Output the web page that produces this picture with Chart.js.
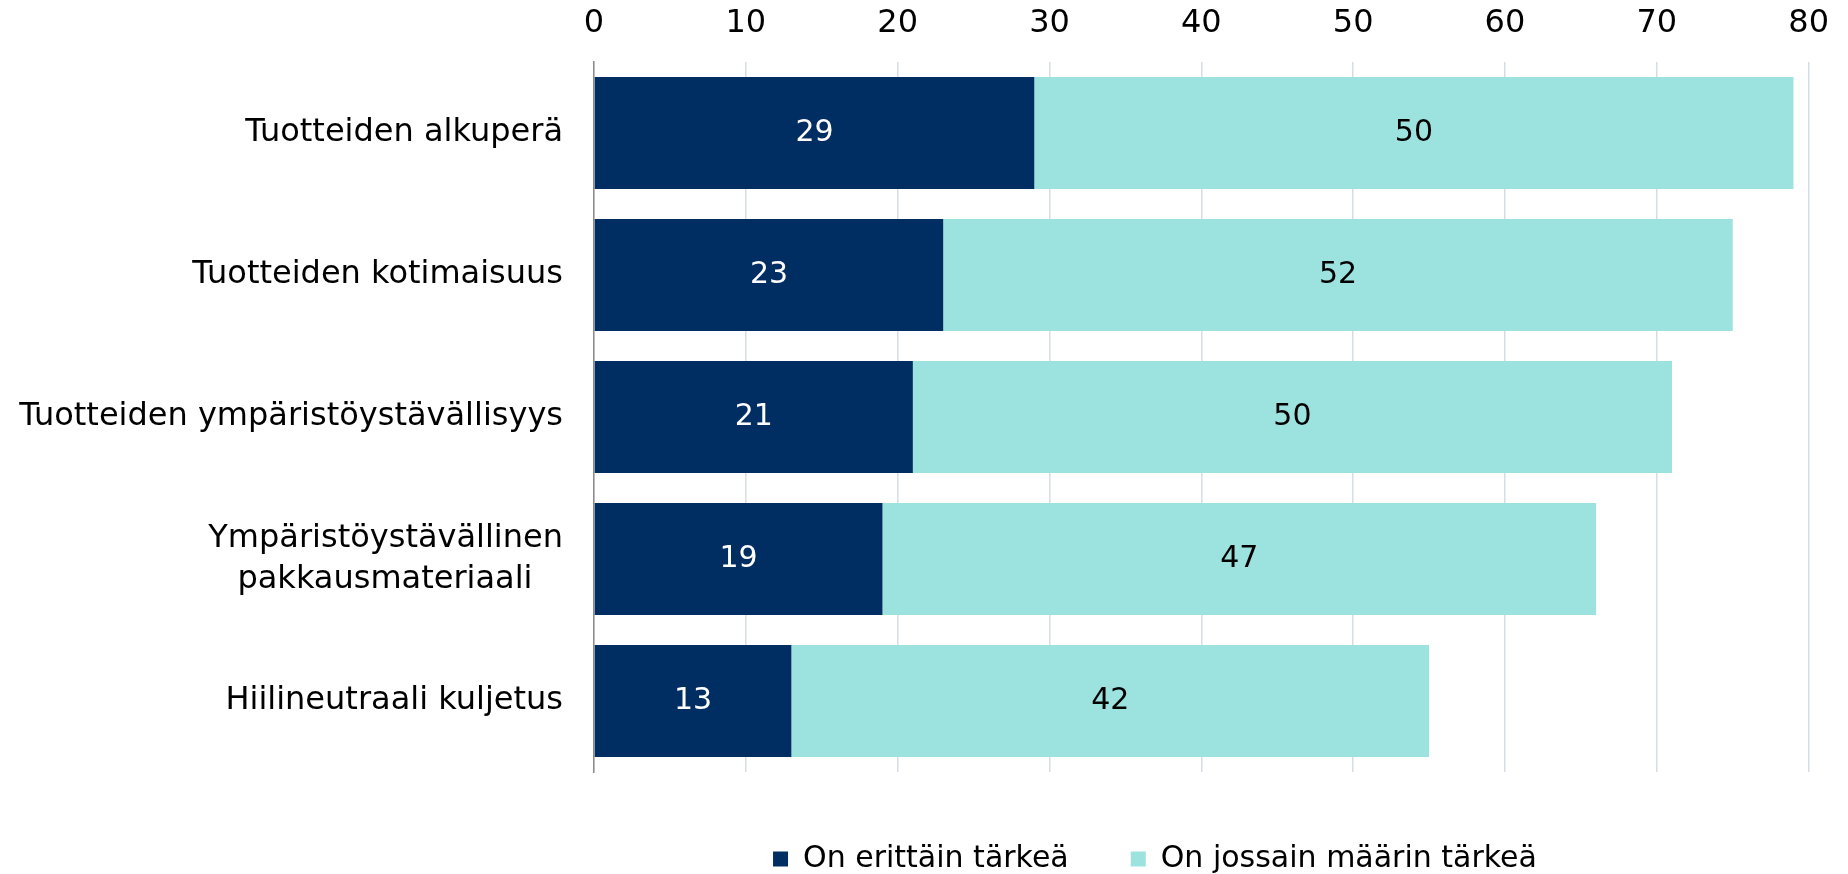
<!DOCTYPE html>
<html>
<head>
<meta charset="utf-8">
<script src="https://cdn.jsdelivr.net/npm/chart.js@4.4.1/dist/chart.umd.min.js"></script>
<style>
  html, body { margin: 0; padding: 0; background: #ffffff; }
  #wrap { width: 1848px; height: 874px; position: relative; }
</style>
</head>
<body>
<div id="wrap"><canvas id="c" width="1848" height="874"></canvas></div>
<script>
const categories = [
  'Tuotteiden alkuperä',
  'Tuotteiden kotimaisuus',
  'Tuotteiden ympäristöystävällisyys',
  ['Ympäristöystävällinen', 'pakkausmateriaali\u00a0\u00a0\u00a0'],
  'Hiilineutraali kuljetus'
];
const seriesNames = ['On erittäin tärkeä', 'On jossain määrin tärkeä'];
const veryImportant = [29, 23, 21, 19, 13];
const somewhatImportant = [50, 52, 50, 47, 42];
const xTicks = [0, 10, 20, 30, 40, 50, 60, 70, 80];

const FONT = '"DejaVu Sans"';
const FS = 32;
const LABEL_FS = 30;
const LEG_FS = 30;
const LEG_PAD = 62;

const barLabels = {
  id: 'barLabels',
  afterDatasetsDraw(chart) {
    const ctx = chart.ctx;
    ctx.save();
    ctx.font = LABEL_FS + 'px ' + FONT;
    ctx.textAlign = 'center';
    ctx.textBaseline = 'middle';
    chart.data.datasets.forEach((ds, di) => {
      const meta = chart.getDatasetMeta(di);
      meta.data.forEach((el, i) => {
        const p = el.getCenterPoint();
        ctx.fillStyle = di === 0 ? '#ffffff' : '#000000';
        ctx.fillText(String(ds.data[i]), p.x, p.y);
      });
    });
    ctx.restore();
  }
};

const legendPlace = {
  id: 'legendPlace',
  afterLayout(chart) {
    const lg = chart.legend;
    if (!lg) return;
    const h = lg.height;
    lg.top = 859 - LEG_PAD - LEG_FS / 2;
    lg.bottom = lg.top + h;
    lg.left = 462;
    lg.right = 1848;
  }
};

new Chart(document.getElementById('c'), {
  type: 'bar',
  data: {
    labels: categories,
    datasets: [
      { label: seriesNames[0], data: veryImportant, backgroundColor: '#002d62', borderWidth: 0 },
      { label: seriesNames[1], data: somewhatImportant, backgroundColor: '#9ce2de', borderWidth: 0 }
    ]
  },
  options: {
    indexAxis: 'y',
    responsive: false,
    animation: false,
    devicePixelRatio: 1,
    layout: { padding: { left: 0, right: 30, top: 0, bottom: 0 } },
    categoryPercentage: 0.79,
    barPercentage: 1.0,
    scales: {
      x: {
        position: 'top',
        stacked: true,
        min: 0,
        max: 80,
        afterBuildTicks(scale) { scale.ticks = xTicks.map(v => ({ value: v })); },
        afterFit(scale) { scale.height = 62; },
        ticks: { color: '#000000', font: { family: FONT, size: FS }, padding: 19 },
        grid: { color: '#d6dde5', lineWidth: 1.5, drawTicks: false },
        border: { display: false }
      },
      y: {
        stacked: true,
        afterFit(scale) { scale.width = 594; },
        ticks: { color: '#000000', font: { family: FONT, size: FS, lineHeight: 1.28 }, padding: 23 },
        grid: { display: false },
        border: { display: true, color: '#8c8c8c', width: 1.5 }
      }
    },
    plugins: {
      legend: {
        position: 'bottom',
        labels: {
          color: '#000000',
          font: { family: FONT, size: LEG_FS },
          boxWidth: 15,
          boxHeight: 15,
          padding: LEG_PAD
        }
      },
      tooltip: { enabled: false }
    }
  },
  plugins: [barLabels, legendPlace]
});
</script>
</body>
</html>
